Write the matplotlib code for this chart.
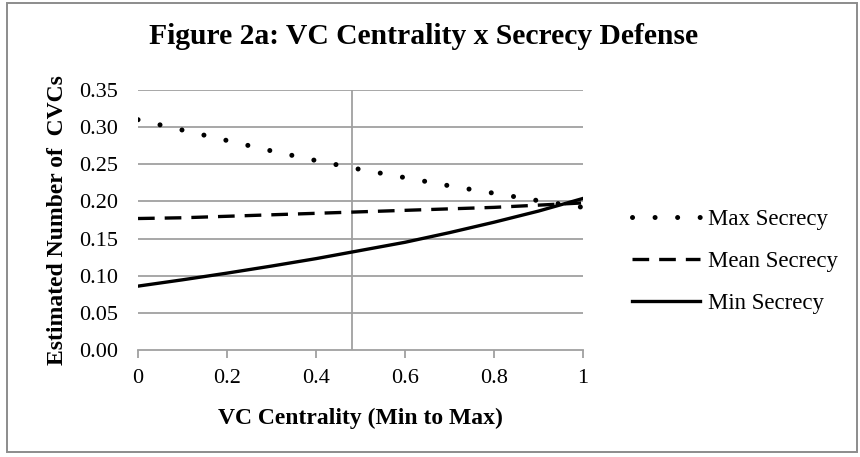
import matplotlib.pyplot as plt
import numpy as np
from matplotlib.patches import Rectangle

# Data
centrality = [0.0, 0.1, 0.2, 0.3, 0.4, 0.5, 0.6, 0.7, 0.8, 0.9, 1.0]
max_secrecy = [0.310, 0.296, 0.282, 0.268, 0.255, 0.243, 0.232, 0.221, 0.211, 0.201, 0.192]
mean_secrecy = [0.177, 0.178, 0.180, 0.182, 0.184, 0.186, 0.188, 0.190, 0.192, 0.195, 0.198]
min_secrecy = [0.086, 0.0945, 0.1035, 0.113, 0.123, 0.134, 0.145, 0.158, 0.172, 0.187, 0.204]
mean_centrality = 0.48
x_ticks = [0, 0.2, 0.4, 0.6, 0.8, 1]
y_ticks = [0.00, 0.05, 0.10, 0.15, 0.20, 0.25, 0.30, 0.35]

plt.rcParams['font.family'] = ['Liberation Serif', 'DejaVu Serif']
grid_col = '#a0a0a0'

fig = plt.figure(figsize=(8.6, 4.57), dpi=100)
# outer chart border
fig.patches.append(Rectangle((0.0081, 0.0109), 0.988, 0.9825, transform=fig.transFigure,
                             fill=False, edgecolor='#8c8c8c', linewidth=1.4))

ax = fig.add_axes([0.1605, 0.2341, 0.5174, 0.569])

for y in y_ticks[1:]:
    ax.axhline(y, color=grid_col, linewidth=1.3, zorder=1)
ax.axvline(mean_centrality, color=grid_col, linewidth=1.3, zorder=1)

x = np.array(centrality)
ax.plot(x, max_secrecy, color='black', linewidth=3.6, linestyle=(0, (0.01, 4.5)),
        dash_capstyle='round', label='Max Secrecy', zorder=3)
ax.plot(x, mean_secrecy, color='black', linewidth=2.4, linestyle=(0, (5, 3)),
        dash_capstyle='butt', label='Mean Secrecy', zorder=3)
ax.plot(x, min_secrecy, color='black', linewidth=2.4, label='Min Secrecy', zorder=3)

ax.set_xlim(0, 1)
ax.set_ylim(0, 0.35)
ax.set_xticks(x_ticks)
ax.set_xticklabels(['0', '0.2', '0.4', '0.6', '0.8', '1'])
ax.set_yticks(y_ticks)
ax.set_yticklabels(['%.2f' % v for v in y_ticks])
ax.tick_params(axis='x', direction='out', length=6, width=1.3, color=grid_col,
               labelsize=16, pad=8)
ax.tick_params(axis='y', length=0, labelsize=16, pad=14.5)

for s in ['top', 'right', 'left']:
    ax.spines[s].set_visible(False)
ax.spines['bottom'].set_color(grid_col)
ax.spines['bottom'].set_linewidth(1.3)

ax.set_xlabel('VC Centrality (Min to Max)', fontsize=17, fontweight='bold', va='center')
ax.xaxis.set_label_coords(0.5, -0.263)
ax.set_ylabel('Estimated Number of  CVCs', fontsize=17, fontweight='bold', va='center')
ax.yaxis.set_label_coords(-0.18, 0.5)

fig.text(0.493, 0.921, 'Figure 2a: VC Centrality x Secrecy Defense', ha='center', va='center',
         fontsize=21.3, fontweight='bold')

ax.legend(loc='center left', bbox_to_anchor=(0.735, 0.428), bbox_transform=fig.transFigure,
          frameon=False, fontsize=16.5, handlelength=2.97, handletextpad=0.35,
          labelspacing=0.9, borderpad=0, borderaxespad=0)

fig.savefig('out.png', dpi=100)
